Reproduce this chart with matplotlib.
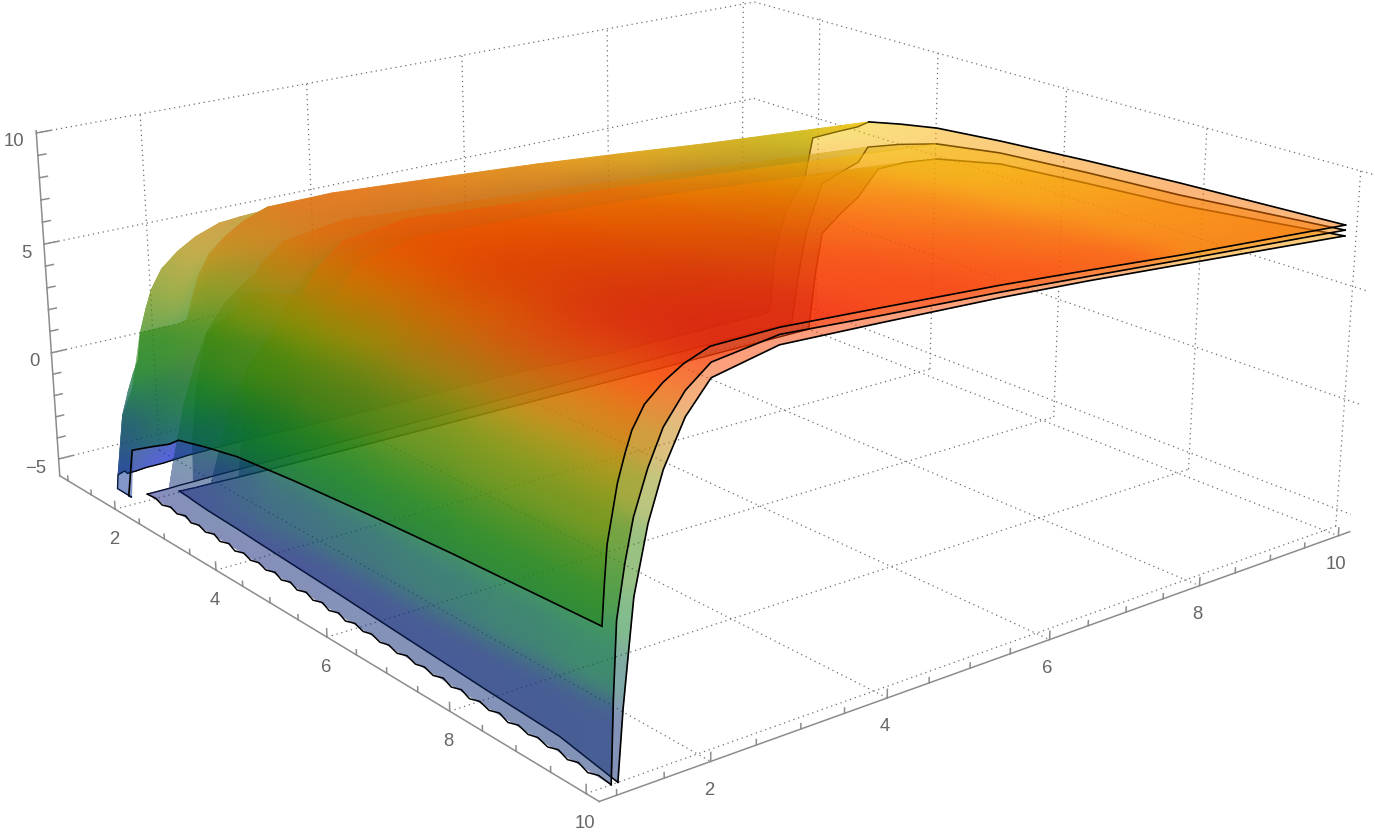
import numpy as np
import matplotlib
matplotlib.use('Agg')
import matplotlib.pyplot as plt
from mpl_toolkits.mplot3d import proj3d

nan = np.nan

# box limits and ticks
x_lim = (0.82, 10.18)
y_lim = (0.82, 10.17)
z_lim = (-5.8, 10.1)
xy_major = [2, 4, 6, 8, 10]
xy_minor = [1, 1.5, 2.5, 3, 3.5, 4.5, 5, 5.5, 6.5, 7, 7.5, 8.5, 9, 9.5]
z_major = [-5, 0, 5, 10]
z_minor = [-4, -3, -2, -1, 1, 2, 3, 4, 6, 7, 8, 9]

# upper surface, regular grid
x_s1 = [1.17, 1.30, 1.36, 1.44, 1.62, 1.97, 2.10, 2.50, 2.88, 3.07, 3.60, 4.20, 5.20, 6.50, 7.83, 10.0]
y_s1 = [1.00, 1.03, 1.06, 1.17, 1.25, 1.32, 1.45, 1.64, 1.85, 2.13, 2.87, 4.00, 5.39, 6.50, 7.68, 10.0]
z_s1 = [
    [nan, nan, nan, nan, nan, -5.4, -3.12, -2.45, -1.84, -1.42, -1.05, -0.7, -0.4, -0.1, 0.15, 0.46],
    [nan, nan, nan, nan, nan, -5.5, -1.47, -0.8, -0.19, 0.23, 0.6, 0.95, 1.25, 1.55, 1.8, 2.11],
    [nan, nan, nan, nan, -5.6, -2.22, -0.09, 0.58, 1.19, 1.61, 1.98, 2.33, 2.63, 2.93, 3.18, 3.49],
    [nan, nan, nan, -5.3, -2.28, -0.05, 2.08, 2.75, 3.36, 3.78, 4.15, 4.5, 4.8, 5.1, 5.35, 5.66],
    [nan, nan, nan, -5.2, -1.25, 0.98, 3.11, 3.78, 4.39, 4.81, 5.18, 5.53, 5.83, 6.13, 6.38, 6.69],
    [nan, nan, -5.5, -2.78, -0.48, 1.75, 3.88, 4.55, 5.16, 5.58, 5.95, 6.3, 6.6, 6.9, 7.15, 7.46],
    [nan, -5.6, -4.99, -1.95, 0.35, 2.58, 4.71, 5.38, 5.99, 6.41, 6.78, 7.13, 7.43, 7.73, 7.98, 8.29],
    [-5.8, -5.5, -4.37, -1.33, 0.97, 3.2, 5.33, 6.0, 6.61, 7.03, 7.4, 7.75, 8.05, 8.35, 8.6, 8.91],
    [-5.8, -5.02, -3.89, -0.85, 1.45, 3.68, 5.81, 6.48, 7.09, 7.51, 7.88, 8.23, 8.53, 8.83, 9.08, 9.39],
    [-5.73, -4.63, -3.5, -0.46, 1.84, 4.07, 6.2, 6.87, 7.48, 7.9, 8.27, 8.62, 8.92, 9.22, 9.47, 9.78],
    [-5.7, -4.6, -3.47, -0.43, 1.87, 4.1, 6.23, 6.9, 7.51, 7.93, 8.3, 8.65, 8.95, 9.25, 9.5, 9.81],
    [-5.8, -4.87, -3.74, -0.7, 1.6, 3.83, 5.96, 6.63, 7.24, 7.66, 8.03, 8.38, 8.68, 8.98, 9.23, 9.54],
    [-5.8, -5.22, -4.09, -1.05, 1.25, 3.48, 5.61, 6.28, 6.89, 7.31, 7.68, 8.03, 8.33, 8.63, 8.88, 9.19],
    [-5.8, -5.57, -4.44, -1.4, 0.9, 3.13, 5.26, 5.93, 6.54, 6.96, 7.33, 7.68, 7.98, 8.28, 8.53, 8.84],
    [nan, -5.8, -4.83, -1.79, 0.51, 2.74, 4.87, 5.54, 6.15, 6.57, 6.94, 7.29, 7.59, 7.89, 8.14, 8.45],
    [nan, -5.8, -5.47, -2.43, -0.13, 2.1, 4.23, 4.9, 5.51, 5.93, 6.3, 6.65, 6.95, 7.25, 7.5, 7.81],
]
fold_s1 = 9
low_rows_s1 = 3

# middle surface, first row sits on the floor along y_floor_s2, first column along x_start_s2
x_s2 = [1.76, 1.86, 2.00, 2.27, 2.60, 2.90, 3.06, 3.60, 4.20, 5.20, 6.50, 7.84, 9.00, 10.0]
y_s2 = [1.08, 1.11, 1.15, 1.24, 1.33, 1.48, 1.64, 1.87, 2.14, 2.87, 4.00, 5.40, 6.50, 7.69, 10.0]
y_floor_s2 = [1.28, 1.28, 1.28, 1.28, 1.27, 1.26, 1.26, 1.25, 1.23, 1.20, 1.16, 1.13, 1.11, 1.08]
x_start_s2 = [1.84, 1.84, 1.84, 1.84, 1.84, 1.83, 1.83, 1.82, 1.82, 1.81, 1.80, 1.79, 1.78, 1.77, 1.76]
z_s2 = [
    [-5.8, -5.8, -5.8, -5.8, -5.8, -5.8, -5.8, -5.8, -5.8, -5.8, -5.8, -5.8, -5.8, -5.8],
    [-5.8, -5.8, -5.8, -5.8, -5.8, -5.8, -5.44, -4.8, -4.22, -3.72, -3.4, -3.14, -2.8, -2.51],
    [-5.8, -5.8, -5.8, -5.05, -4.13, -3.33, -2.42, -1.78, -1.2, -0.7, -0.38, -0.12, 0.22, 0.51],
    [-5.8, -5.8, -5.8, -2.97, -2.05, -1.25, -0.34, 0.3, 0.88, 1.38, 1.7, 1.96, 2.3, 2.59],
    [-5.8, -5.8, -4.18, -1.35, -0.43, 0.37, 1.28, 1.92, 2.5, 3.0, 3.32, 3.58, 3.92, 4.21],
    [-5.8, -5.1, -2.5, 0.33, 1.25, 2.05, 2.96, 3.6, 4.18, 4.68, 5.0, 5.26, 5.6, 5.89],
    [-5.8, -3.74, -1.14, 1.69, 2.61, 3.41, 4.32, 4.96, 5.54, 6.04, 6.36, 6.62, 6.96, 7.25],
    [-5.8, -2.6, 0.0, 2.83, 3.75, 4.55, 5.46, 6.1, 6.68, 7.18, 7.5, 7.76, 8.1, 8.39],
    [-5.8, -1.81, 0.79, 3.62, 4.54, 5.34, 6.25, 6.89, 7.47, 7.97, 8.29, 8.55, 8.89, 9.18],
    [-5.8, -1.45, 1.15, 3.98, 4.9, 5.7, 6.61, 7.25, 7.83, 8.33, 8.65, 8.91, 9.25, 9.54],
    [-5.8, -1.75, 0.85, 3.68, 4.6, 5.4, 6.31, 6.95, 7.53, 8.03, 8.35, 8.61, 8.95, 9.24],
    [-5.8, -2.08, 0.52, 3.35, 4.27, 5.07, 5.98, 6.62, 7.2, 7.7, 8.02, 8.28, 8.62, 8.91],
    [-5.8, -2.4, 0.2, 3.03, 3.95, 4.75, 5.66, 6.3, 6.88, 7.38, 7.7, 7.96, 8.3, 8.59],
    [-5.8, -2.75, -0.15, 2.68, 3.6, 4.4, 5.31, 5.95, 6.53, 7.03, 7.35, 7.61, 7.95, 8.24],
    [-5.8, -3.4, -0.8, 2.03, 2.95, 3.75, 4.66, 5.3, 5.88, 6.38, 6.7, 6.96, 7.3, 7.59],
]
fold_s2 = 8
low_rows_s2 = 6

# scalloped floor edge of the middle surface
edge_x_s2 = [1.84, 2.0, 2.2, 2.3, 2.5, 2.6, 2.8, 2.9, 3.1, 3.2, 3.4, 3.5, 3.7, 3.8, 4.0, 4.1, 4.3, 4.4, 4.6, 4.7, 4.9,
             5.0, 5.2, 5.3, 5.5, 5.6, 5.8, 5.9, 6.1, 6.2, 6.4, 6.5, 6.7, 6.8, 7.0, 7.1, 7.3, 7.4, 7.6, 7.7, 7.9,
             8.0, 8.2, 8.3, 8.5, 8.6, 8.8, 8.9, 9.1, 9.2, 9.4, 9.5, 9.7, 9.8, 10.0]
edge_y_s2 = [1.28, 1.29, 1.25, 1.29, 1.25, 1.29, 1.24, 1.27, 1.23, 1.27, 1.22, 1.26, 1.21, 1.25, 1.21, 1.24, 1.20, 1.24, 1.19, 1.23, 1.18,
             1.22, 1.17, 1.21, 1.16, 1.20, 1.15, 1.19, 1.15, 1.18, 1.14, 1.17, 1.13, 1.17, 1.13, 1.16, 1.12, 1.16, 1.11, 1.15, 1.10,
             1.14, 1.10, 1.14, 1.09, 1.13, 1.09, 1.12, 1.08, 1.12, 1.07, 1.11, 1.06, 1.10, 1.08]

# lower surface, same layout as the middle one
x_s3 = [2.07, 2.18, 2.29, 2.60, 2.91, 3.24, 3.70, 4.21, 5.21, 6.50, 7.85, 9.00, 10.0]
y_s3 = [1.15, 1.21, 1.27, 1.33, 1.48, 1.64, 1.87, 2.14, 2.87, 4.00, 5.40, 6.50, 7.69, 10.0]
y_floor_s3 = [1.58, 1.57, 1.56, 1.54, 1.53, 1.52, 1.50, 1.48, 1.44, 1.38, 1.32, 1.28, 1.15]
x_start_s3 = [1.97, 1.98, 1.98, 1.99, 1.99, 2.00, 2.01, 2.02, 2.03, 2.04, 2.05, 2.06, 2.07, 2.07]
z_s3 = [
    [-5.8, -5.8, -5.8, -5.8, -5.8, -5.8, -5.8, -5.8, -5.8, -5.8, -5.8, -5.8, -5.8],
    [-5.8, -5.8, -5.8, -5.8, -5.8, -5.8, -5.8, -5.18, -4.47, -4.13, -3.81, -3.38, -2.99],
    [-5.8, -5.8, -5.8, -5.8, -5.8, -4.49, -3.72, -3.07, -2.36, -2.02, -1.7, -1.27, -0.88],
    [-5.8, -5.8, -5.8, -5.34, -4.15, -2.41, -1.64, -0.99, -0.28, 0.06, 0.38, 0.81, 1.2],
    [-5.8, -5.8, -4.03, -2.73, -1.54, 0.2, 0.97, 1.62, 2.33, 2.67, 2.99, 3.42, 3.81],
    [-5.8, -4.37, -2.17, -0.87, 0.32, 2.06, 2.83, 3.48, 4.19, 4.53, 4.85, 5.28, 5.67],
    [-5.8, -2.63, -0.43, 0.87, 2.06, 3.8, 4.57, 5.22, 5.93, 6.27, 6.59, 7.02, 7.41],
    [-5.8, -1.44, 0.76, 2.06, 3.25, 4.99, 5.76, 6.41, 7.12, 7.46, 7.78, 8.21, 8.6],
    [-5.8, -0.89, 1.31, 2.61, 3.8, 5.54, 6.31, 6.96, 7.67, 8.01, 8.33, 8.76, 9.15],
    [-5.8, -1.08, 1.12, 2.42, 3.61, 5.35, 6.12, 6.77, 7.48, 7.82, 8.14, 8.57, 8.96],
    [-5.8, -1.35, 0.85, 2.15, 3.34, 5.08, 5.85, 6.5, 7.21, 7.55, 7.87, 8.3, 8.69],
    [-5.8, -1.63, 0.57, 1.87, 3.06, 4.8, 5.57, 6.22, 6.93, 7.27, 7.59, 8.02, 8.41],
    [-5.8, -1.99, 0.21, 1.51, 2.7, 4.44, 5.21, 5.86, 6.57, 6.91, 7.23, 7.66, 8.05],
    [-5.8, -2.7, -0.5, 0.8, 1.99, 3.73, 4.5, 5.15, 5.86, 6.2, 6.52, 6.95, 7.34],
]
fold_s3 = 7
low_rows_s3 = 6

# colour against height, far side and near side of the plot
col_z = [-5.8, -3.5, -0.9, 0.5, 2.0, 3.5, 4.5, 5.66, 6.0, 6.65, 7.0, 7.8, 8.3, 9.0, 10.0]
col_r = [25, 10, 5, 20, 50, 90, 135, 185, 225, 245, 250, 248, 250, 250, 235]
col_g = [30, 55, 120, 130, 135, 140, 145, 150, 185, 215, 185, 130, 85, 60, 15]
col_b = [130, 110, 55, 25, 15, 10, 5, 5, 5, 5, 5, 0, 0, 0, 10]
col_r_near = [25, 10, 5, 20, 50, 90, 130, 170, 185, 200, 215, 235, 250, 250, 235]
col_g_near = [30, 55, 120, 130, 135, 140, 145, 145, 140, 125, 115, 100, 80, 60, 15]
col_b_bright = [255, 110, 55, 25, 15, 10, 5, 5, 5, 5, 5, 0, 0, 0, 10]
alpha_layer = 0.72  # draw_image applies it twice, so about 0.5 on the page
alpha_far_s1 = 0.85
blur_radius = 9


def cell_colors(y, z, blue, keep):
    mid = np.nanmean(np.stack([z[:-1, :-1], z[1:, :-1], z[:-1, 1:], z[1:, 1:]]), axis=0)
    ym = np.nanmean(np.stack([y[:-1, :-1], y[1:, :-1], y[:-1, 1:], y[1:, 1:]]), axis=0)
    w = np.clip((ym - 2.0) / 4.0, 0, 1)
    rgba = np.ones(mid.shape + (4,))
    rgba[..., 0] = (w * np.interp(mid, col_z, col_r) + (1 - w) * np.interp(mid, col_z, col_r_near)) / 255
    rgba[..., 1] = (w * np.interp(mid, col_z, col_g) + (1 - w) * np.interp(mid, col_z, col_g_near)) / 255
    rgba[..., 2] = np.interp(mid, col_z, blue) / 255
    rgba[..., 3] = keep
    return rgba


def box_blur(a, r):
    for axis in (0, 1):
        pad = [(0, 0)] * a.ndim
        pad[axis] = (r + 1, r)
        c = np.cumsum(np.pad(a, pad), axis=axis)
        n = a.shape[axis]
        a = (np.take(c, np.arange(2 * r + 1, n + 2 * r + 1), axis=axis) - np.take(c, np.arange(n), axis=axis)) / (2 * r + 1)
    return a


# each layer is drawn opaque, then its colours are smoothed inside its own outline and it is made see-through
def soft_layer(alpha):
    def post(img, dpi):
        w = (img[..., 3] > 0.02).astype(float)
        rgb = img[..., :3] * w[..., None]
        for _ in range(2):
            rgb = box_blur(rgb, blur_radius)
            w = box_blur(w, blur_radius)
        out = img.copy()
        out[..., :3] = np.clip(rgb / np.maximum(w, 1e-3)[..., None], 0, 1)
        out[..., 3] = img[..., 3] * alpha
        return out, 0, 0
    return post


def floor_mesh(x_nodes, y_nodes, y_floor, x_start):
    x_nodes = np.array(x_nodes, float)
    y_nodes = np.array(y_nodes, float)
    y_floor = np.array(y_floor, float)
    X, Y = np.meshgrid(x_nodes, y_nodes)
    X[:, 0] = x_start
    Y = y_floor + (Y - y_nodes[0]) * (10.0 - y_floor) / (10.0 - y_nodes[0])
    return X, Y


fig = plt.figure(figsize=(13.75, 8.36), dpi=100)
ax = fig.add_axes([-109.53 / 1375, -294.49 / 836, 1600 / 1375, 1600 / 836], projection='3d', computed_zorder=False)
ax.set_box_aspect((1, 0.9988, 0.3974))
ax.set_proj_type('persp', focal_length=0.444)
ax.view_init(elev=18.8765, azim=-38.4308)
ax.set_axis_off()

# back walls and floor
dots = dict(color='#6e6e6e', linestyle=(0, (1, 3)), linewidth=0.9, zorder=1)
for k in xy_major:
    ax.plot([x_lim[0], x_lim[0]], [k, k], z_lim, **dots)
    ax.plot([k, k], [y_lim[1], y_lim[1]], z_lim, **dots)
    ax.plot([k, k], y_lim, [z_lim[0], z_lim[0]], **dots)
    ax.plot(x_lim, [k, k], [z_lim[0], z_lim[0]], **dots)
for k in z_major:
    ax.plot([x_lim[0], x_lim[0]], y_lim, [k, k], **dots)
    ax.plot(x_lim, [y_lim[1], y_lim[1]], [k, k], **dots)

# axes lines and ticks
axis = dict(color='#8c8c8c', linewidth=1.1, zorder=1.5)
ax.plot([x_lim[0], x_lim[0]], [y_lim[0], y_lim[0]], z_lim, **axis)
ax.plot(x_lim, [y_lim[0], y_lim[0]], [z_lim[0], z_lim[0]], **axis)
ax.plot([x_lim[1], x_lim[1]], y_lim, [z_lim[0], z_lim[0]], **axis)
for k, up in [(v, 0.36) for v in xy_major] + [(v, 0.22) for v in xy_minor]:
    ax.plot([k, k], [y_lim[0], y_lim[0]], [z_lim[0], z_lim[0] + up], **axis)
    ax.plot([x_lim[1], x_lim[1]], [k, k], [z_lim[0], z_lim[0] + up], **axis)
for k, out in [(v, 0.16) for v in z_major] + [(v, 0.09) for v in z_minor]:
    ax.plot([x_lim[0], x_lim[0]], [y_lim[0], y_lim[0] + out], [k, k], **axis)

X1, Y1 = np.meshgrid(x_s1, y_s1)
Z1 = np.array(z_s1, float)
X2, Y2 = floor_mesh(x_s2, y_s2, y_floor_s2, x_start_s2)
Z2 = np.array(z_s2, float)
X3, Y3 = floor_mesh(x_s3, y_s3, y_floor_s3, x_start_s3)
Z3 = np.array(z_s3, float)


def far_cells(Z, fold, low_rows):
    keep = np.zeros((Z.shape[0] - 1, Z.shape[1] - 1))
    keep[low_rows:, :fold] = 1
    return keep


def add_layer(X, Y, Z, keep, zo, alpha=alpha_layer, blue=col_b):
    part = ax.plot_surface(X, Y, Z, rstride=1, cstride=1, shade=False, facecolors=cell_colors(Y, Z, blue, keep),
                           linewidth=0.7, antialiased=True, zorder=zo)
    part.set_agg_filter(soft_layer(alpha))


# far slopes first, upper surface deepest; then near slopes, upper surface last
far1 = far_cells(Z1, fold_s1, low_rows_s1)
far2 = far_cells(Z2, fold_s2, low_rows_s2)
far3 = far_cells(Z3, fold_s3, low_rows_s3)
add_layer(X1, Y1, Z1, far1, 2.0, alpha_far_s1, col_b_bright)
add_layer(X2, Y2, Z2, far2, 2.2)
add_layer(X3, Y3, Z3, far3, 2.4)
add_layer(X3, Y3, Z3, 1 - far3, 3.0)
add_layer(X2, Y2, Z2, 1 - far2, 3.2)
add_layer(X1, Y1, Z1, 1 - far1, 3.4, alpha_layer, col_b_bright)

# outlines, each just above its own layer so the layers on top dim it
for X, Y, Z, fold, zo_far, zo_near in [(X3, Y3, Z3, fold_s3, 2.5, 3.1), (X2, Y2, Z2, fold_s2, 2.3, 3.3)]:
    far = dict(color='black', linewidth=1.0, zorder=zo_far)
    near = dict(color='black', linewidth=1.2, zorder=zo_near)
    ax.plot(X[-1, :fold + 1], Y[-1, :fold + 1], Z[-1, :fold + 1], **far)
    ax.plot(X[:, 0], Y[:, 0], Z[:, 0], **far)
    ax.plot(X[-1, fold:], Y[-1, fold:], Z[-1, fold:], **near)
    ax.plot(X[:, -1], Y[:, -1], Z[:, -1], **near)
ax.plot(X3[0], Y3[0], Z3[0], color='black', linewidth=1.1, zorder=3.1)
ax.plot(edge_x_s2, edge_y_s2, np.full(len(edge_x_s2), z_lim[0]), color='black', linewidth=1.1, zorder=3.3)

first = [np.where(np.isfinite(row))[0][0] for row in Z1]
rows = range(len(y_s1))
back = dict(color='black', linewidth=1.0, zorder=2.1)
ax.plot([X1[j, first[j]] for j in rows], [Y1[j, first[j]] for j in rows], [Z1[j, first[j]] for j in rows], **back)
ax.plot(X1[-1, :fold_s1 + 1], Y1[-1, :fold_s1 + 1], Z1[-1, :fold_s1 + 1], **back)
front = dict(color='black', linewidth=1.2, zorder=3.5)
ax.plot(X1[-1, fold_s1:], Y1[-1, fold_s1:], Z1[-1, fold_s1:], **front)
ax.plot(X1[0, 5:], Y1[0, 5:], Z1[0, 5:], **front)
ax.plot(X1[:, -1], Y1[:, -1], Z1[:, -1], **front)

ax.set_xlim(x_lim[0], x_lim[1], view_margin=0)
ax.set_ylim(y_lim[0], y_lim[1], view_margin=0)
ax.set_zlim(z_lim[0], z_lim[1], view_margin=0)
half = 800 / 7207.44
ax.viewLim.intervalx = (-half, half)
ax.viewLim.intervaly = (-half, half)

# tick labels sit at a pixel offset from their ticks
M = ax.get_proj()
label = dict(textcoords='offset pixels', color='#666666', fontsize=13.3, family='Liberation Sans', va='center', annotation_clip=False)
for k in xy_major:
    u, v, _ = proj3d.proj_transform(k, y_lim[0], z_lim[0], M)
    ax.annotate(str(k), (u, v), xytext=(-1, -30), ha='center', **label)
    u, v, _ = proj3d.proj_transform(x_lim[1], k, z_lim[0], M)
    ax.annotate(str(k), (u, v), xytext=(-2, -29), ha='center', **label)
for k in z_major:
    u, v, _ = proj3d.proj_transform(x_lim[0], y_lim[0], k, M)
    ax.annotate(str(k).replace('-', '\u2212'), (u, v), xytext=(-12, -9), ha='right', **label)

fig.savefig('out.png', dpi=100)
